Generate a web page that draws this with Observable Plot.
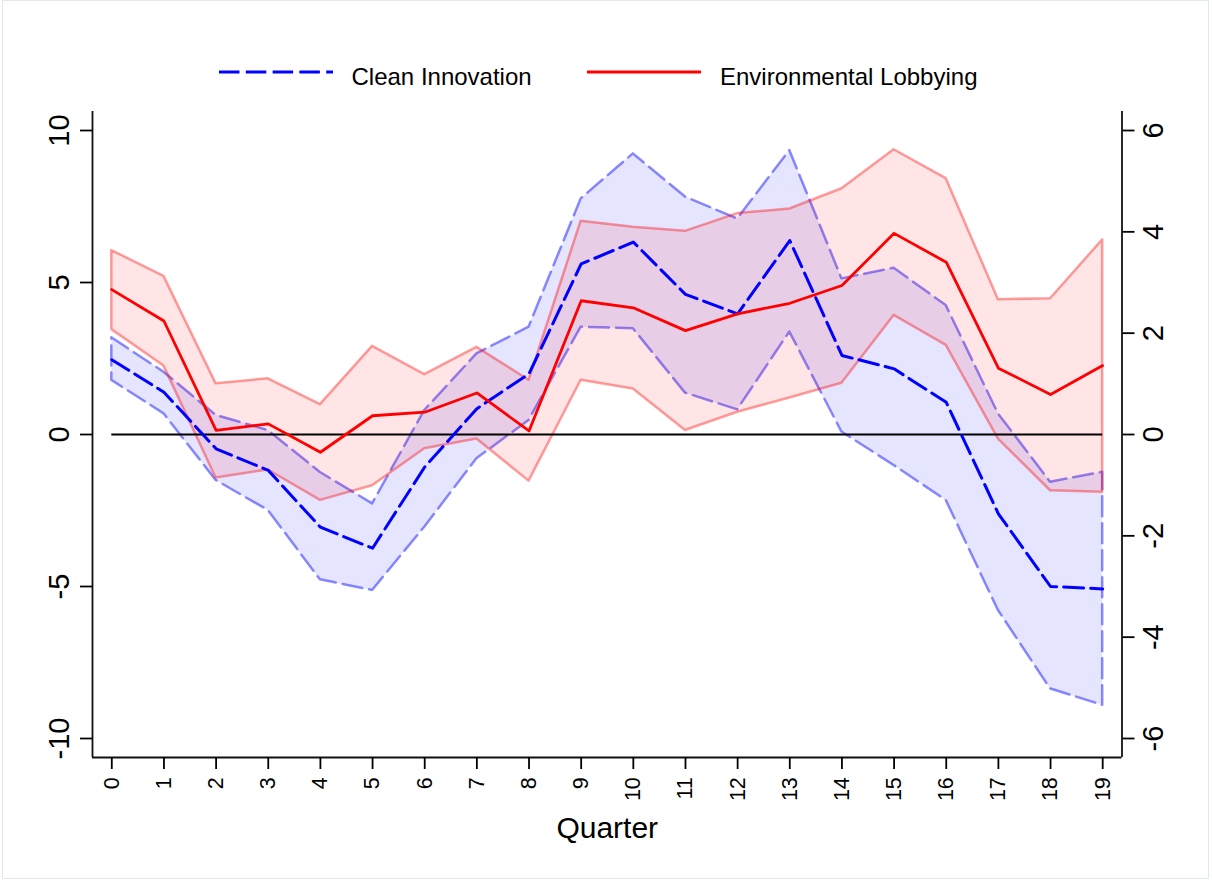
<!DOCTYPE html>
<html>
<head>
<meta charset="utf-8">
<script src="https://cdn.jsdelivr.net/npm/d3@7"></script>
<script src="https://cdn.jsdelivr.net/npm/@observablehq/plot@0.6"></script>
<style>
  html, body { margin: 0; padding: 0; background: #fff; }
  body { width: 1212px; height: 881px; position: relative; overflow: hidden;
         font-family: "Liberation Sans", Arial, Helvetica, sans-serif; }
  #legend { display: block; }
  #chart svg { display: block; max-width: none; }
  #border { position: absolute; left: 2px; top: 0px; width: 1207px; height: 879px;
            border: 1px solid #e3e9e9; box-sizing: border-box; pointer-events: none; }
</style>
</head>
<body>
<svg id="legend" width="1212" height="100"></svg>
<div id="chart"></div>
<div id="border"></div>
<script>
// ---- data ----
const quarters = [0, 1, 2, 3, 4, 5, 6, 7, 8, 9, 10, 11, 12, 13, 14, 15, 16, 17, 18, 19];

// Clean Innovation (left axis)
const innovation   = [2.46, 1.39, -0.47, -1.18, -3.05, -3.74, -1.07, 0.85, 2.00, 5.61, 6.33, 4.61, 3.97, 6.38, 2.60, 2.16, 1.06, -2.61, -5.00, -5.08];
const innovationHi = [3.18, 2.05, 0.63, 0.13, -1.25, -2.28, 0.79, 2.65, 3.53, 7.75, 9.23, 7.81, 7.09, 9.34, 5.12, 5.47, 4.24, 0.68, -1.57, -1.24];
const innovationLo = [1.78, 0.68, -1.51, -2.50, -4.78, -5.13, -3.05, -0.80, 0.46, 3.53, 3.48, 1.36, 0.81, 3.37, 0.08, -1.02, -2.17, -5.79, -8.37, -8.91];

// Environmental Lobbying (right axis)
const lobbying   = [2.86, 2.24, 0.08, 0.21, -0.35, 0.37, 0.44, 0.82, 0.07, 2.64, 2.50, 2.05, 2.38, 2.59, 2.94, 3.97, 3.40, 1.31, 0.79, 1.36];
const lobbyingHi = [3.63, 3.12, 1.00, 1.10, 0.59, 1.74, 1.18, 1.72, 1.07, 4.21, 4.09, 4.01, 4.36, 4.45, 4.85, 5.62, 5.05, 2.66, 2.68, 3.84];
const lobbyingLo = [2.07, 1.35, -0.86, -0.70, -1.30, -1.01, -0.28, -0.09, -0.92, 1.07, 0.90, 0.08, 0.44, 0.72, 1.01, 2.35, 1.76, -0.09, -1.11, -1.14];

const leftTicks  = [-10, -5, 0, 5, 10];
const rightTicks = [-6, -4, -2, 0, 2, 4, 6];
const seriesNames = ["Clean Innovation", "Environmental Lobbying"];
const xTitle = "Quarter";

const xDomain = [-0.37, 19.37];
const yDomain = [-10.625, 10.625];
const k = 10 / 6; // right axis (±6) mapped onto left axis (±10)

const FONT = '"Liberation Sans", Arial, Helvetica, sans-serif';
const BLUE = "#0000ff", RED = "#ff0000";

const rows = quarters.map((q, i) => ({
  q,
  inn: innovation[i], innHi: innovationHi[i], innLo: innovationLo[i],
  lob: lobbying[i] * k, lobHi: lobbyingHi[i] * k, lobLo: lobbyingLo[i] * k
}));

// ---- legend (above the plot) ----
const lg = d3.select("#legend");
const items = [
  {name: seriesNames[0], color: BLUE, dash: "20.5,6.3", x1: 219, x2: 333, tx: 351.5},
  {name: seriesNames[1], color: RED, dash: null, x1: 587, x2: 701, tx: 720}
];
for (const it of items) {
  lg.append("line").attr("x1", it.x1).attr("x2", it.x2).attr("y1", 72).attr("y2", 72)
    .attr("stroke", it.color).attr("stroke-width", 3)
    .attr("stroke-dasharray", it.dash);
  lg.append("text").attr("x", it.tx).attr("y", 85).attr("font-size", 24)
    .attr("font-family", FONT).attr("fill", "#000").text(it.name);
}

// ---- chart ----
const chart = Plot.plot({
  width: 1212,
  height: 781,
  marginTop: 11,
  marginBottom: 124,
  marginLeft: 92,
  marginRight: 90.5,
  x: {domain: xDomain},
  y: {domain: yDomain},
  style: {fontFamily: FONT, background: "white", color: "black", overflow: "visible"},
  marks: [
    Plot.areaY(rows, {x: "q", y1: "innLo", y2: "innHi", fill: BLUE, fillOpacity: 0.1,
      stroke: BLUE, strokeOpacity: 0.45, strokeWidth: 2.5, strokeDasharray: "20,7"}),
    Plot.areaY(rows, {x: "q", y1: "lobLo", y2: "lobHi", fill: RED, fillOpacity: 0.1,
      stroke: RED, strokeOpacity: 0.38, strokeWidth: 2.5}),
    Plot.ruleY([0], {x1: quarters[0], x2: quarters[quarters.length - 1], stroke: "black", strokeWidth: 2.2}),
    Plot.lineY(rows, {x: "q", y: "inn", stroke: BLUE, strokeWidth: 3, strokeDasharray: "20,7"}),
    Plot.lineY(rows, {x: "q", y: "lob", stroke: RED, strokeWidth: 2.8}),
    // axis lines: left, right, bottom (no top)
    Plot.ruleX(xDomain, {stroke: "#111", strokeWidth: 1.8}),
    Plot.ruleY([yDomain[0]], {stroke: "#111", strokeWidth: 1.8}),
    Plot.axisY(leftTicks, {anchor: "left", tickSize: 12, tickPadding: 12, tickRotate: -90,
      textAnchor: "middle", lineAnchor: "bottom", fontSize: 29, strokeWidth: 1.8,
      tickFormat: d => String(d), label: null}),
    Plot.axisY(rightTicks.map(v => v * k), {anchor: "right", tickSize: 12, tickPadding: 8, tickRotate: -90,
      textAnchor: "middle", lineAnchor: "top", fontSize: 29, strokeWidth: 1.8,
      tickFormat: d => String(Math.round(d / k)), label: null}),
    Plot.axisX(quarters, {anchor: "bottom", tickSize: 12, tickPadding: 7.7, tickRotate: -90,
      textAnchor: "end", lineAnchor: "middle", fontSize: 21.5, strokeWidth: 1.8,
      tickFormat: d => String(d), label: null}),
    Plot.text([xTitle], {text: d => d, frameAnchor: "bottom", lineAnchor: "bottom", dy: 80, fontSize: 30})
  ]
});
document.getElementById("chart").appendChild(chart);
</script>
</body>
</html>
